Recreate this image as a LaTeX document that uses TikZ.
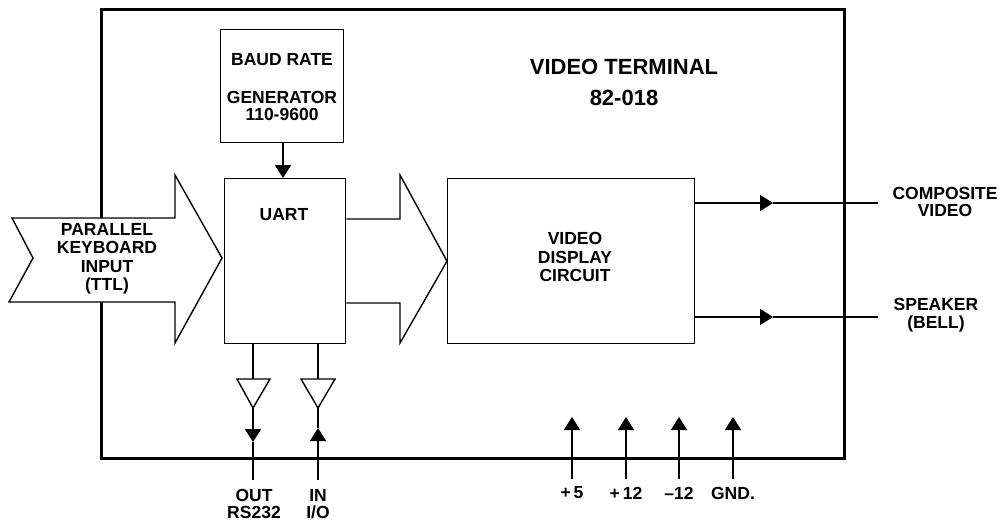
\documentclass[tikz,border=0pt]{standalone}
\usepackage{fontspec}
\setmainfont{Liberation Sans}
\usetikzlibrary{arrows.meta}
\begin{document}
\begin{tikzpicture}[x=1pt,y=-1pt,
  lbl/.style={font=\fontsize{17.5}{18.5}\selectfont\bfseries, inner sep=0pt, align=center},
  big/.style={font=\fontsize{22}{30}\selectfont\bfseries, inner sep=0pt, align=center},
  blk/.style={draw, line width=1.4pt, inner sep=0pt},
  wire/.style={line width=1.4pt},
  tip/.style={-{Triangle[length=13pt,width=16pt]}},
  frm/.style={line width=2.6pt}]
\useasboundingbox (0,0) rectangle (1001,523);
% frame
\node[draw, frm, minimum width=743pt, minimum height=449pt, inner sep=0pt, anchor=north west] (frame) at (100,8) {};
% input arrow (covers frame)
\draw[wire, fill=white] (12,218) -- (175,218) -- (175,175) -- (222,258) -- (175,343) -- (175,302) -- (9,302) -- (33,258) -- cycle;
\node[lbl] (kbd) at (107,259) {PARALLEL\\KEYBOARD\\INPUT\\(TTL)};
% blocks
\node[blk, minimum width=123pt, minimum height=113pt, anchor=north west] (baud) at (220,29) {};
\node[lbl] (baudt) at (282,60) {BAUD RATE};
\node[lbl] (gen) at (282,106) {GENERATOR\\[-1pt]110-9600};
\node[blk, minimum width=121pt, minimum height=165pt, anchor=north west] (uart) at (224,178) {};
\node[lbl] (uartt) at (284,215) {UART};
\node[blk, minimum width=247pt, minimum height=165pt, anchor=north west] (vdc) at (447,178) {};
\node[lbl] (vdct) at (575,257) {VIDEO\\DISPLAY\\CIRCUIT};
\node[big] (title) at (624,82) {VIDEO TERMINAL\\[1pt]82-018};
% second arrow
\draw[wire] (uart.east |- 0,219) -- (400,219) -- (400,175) -- (vdc.west) -- (400,343) -- (400,303) -- (uart.east |- 0,303);
% baud -> uart
\draw[wire, tip] (baud.south -| 283,0) -- (uart.north -| 283,0);
% outputs
\coordinate (cv0) at (vdc.east |- 0,203);
\coordinate (cva) at (773,203);
\coordinate (cv1) at (878,203);
\coordinate (sp0) at (vdc.east |- 0,317);
\coordinate (spa) at (773,317);
\coordinate (sp1) at (878,317);
\draw[wire, tip] (cv0) -- (cva);
\draw[wire] (cva) -- (cv1);
\draw[wire, tip] (sp0) -- (spa);
\draw[wire] (spa) -- (sp1);
\node[lbl] (cvt) at (945,202) {COMPOSITE\\[-1pt]VIDEO};
\node[lbl, align=center] (spt) at (936,315) {SPEAKER\\[-1pt](BELL)};
% buffers
\coordinate (b1t) at (253,379); \coordinate (b1b) at (253,408);
\coordinate (b2t) at (318,379); \coordinate (b2b) at (318,408);
\draw[wire] (237,379) -- (270,379) -- (b1b) -- cycle;
\draw[wire] (301,379) -- (335,379) -- (b2b) -- cycle;
\draw[wire] (uart.south -| b1t) -- (b1t);
\draw[wire] (uart.south -| b2t) -- (b2t);
\coordinate (o1) at (253,442); \coordinate (o2) at (253,480);
\coordinate (i1) at (318,428); \coordinate (i2) at (318,480);
\draw[wire, tip] (b1b) -- (o1);
\draw[wire] (o1) -- (o2);
\draw[wire] (b2b) -- (i1);
\draw[wire, tip] (i2) -- (i1);
\node[lbl] (outt) at (254,504) {OUT\\[-1pt]RS232};
\node[lbl] (int) at (318,504) {IN\\[-1pt]I/O};
% power
\foreach \x/\t/\n in {572/{+\,5}/p5, 626/{+\,12}/p12, 679/{--12}/m12, 733/{GND.}/gnd}{
  \coordinate (\n a) at (\x,479);
  \coordinate (\n b) at (\x,417);
  \draw[wire, tip] (\n a) -- (\n b);
  \node[lbl] (\n t) at (\x,493) {\t};
}
\end{tikzpicture}
\end{document}
